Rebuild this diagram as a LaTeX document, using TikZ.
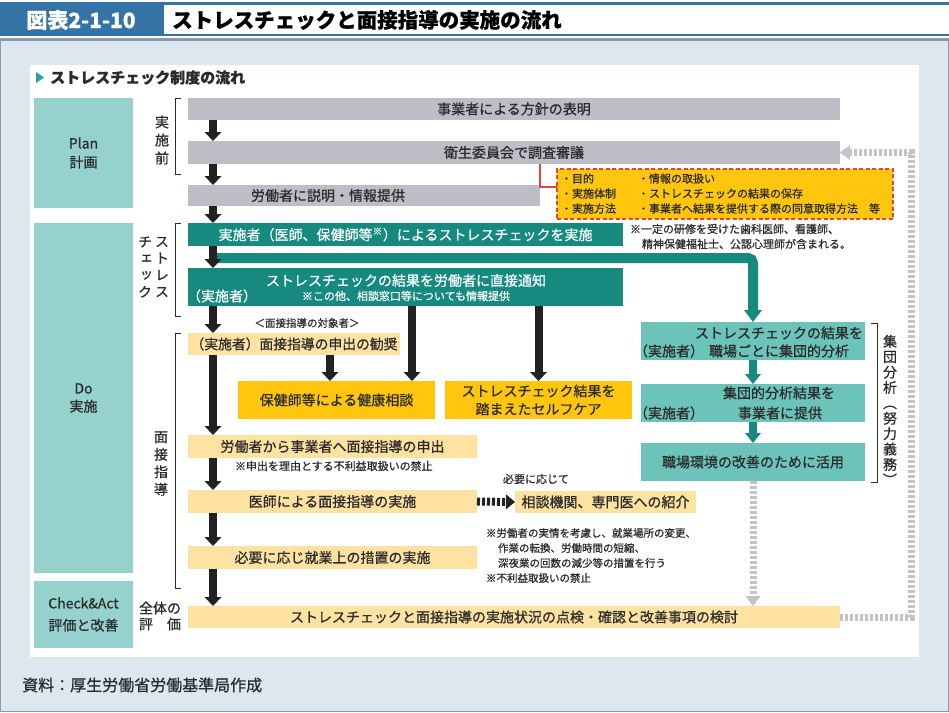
\documentclass[tikz,border=0pt]{standalone}
\usepackage{fontspec}
\setmainfont{Noto Sans CJK JP}[RawFeature={embolden=0.7}]
\newfontfamily\vfont{Noto Sans CJK JP}[RawFeature={+vert;embolden=0.7}]
\usetikzlibrary{arrows.meta,calc}
\definecolor{hdrblue}{HTML}{3473A6}
\definecolor{bgblue}{HTML}{DCE7F0}
\definecolor{frameg}{HTML}{8D99A4}
\definecolor{grayb}{HTML}{BDBDC5}
\definecolor{tealD}{HTML}{168A7F}
\definecolor{tealM}{HTML}{6BC3B9}
\definecolor{tealL}{HTML}{95D2CD}
\definecolor{tealtri}{HTML}{1FA59B}
\definecolor{lorange}{HTML}{FDE2A2}
\definecolor{gold}{HTML}{FFC60D}
\definecolor{redd}{HTML}{E8433A}
\definecolor{txt}{HTML}{2B2B2B}
\definecolor{arrblk}{HTML}{222222}
\definecolor{dgray}{HTML}{C3C3CB}
\newcommand\fs[2]{\fontsize{#1}{#2}\selectfont}
\begin{document}
\begin{tikzpicture}[x=1pt,y=-1pt,
  bx/.style={rectangle,anchor=north west,inner sep=0pt,outer sep=0pt,text=txt,font=\fs{14}{18},align=center},
  wh/.style 2 args={minimum width=#1pt,minimum height=#2pt},
  gbox/.style={bx,fill=grayb},
  tdbox/.style={bx,fill=tealD,text=white},
  tmbox/.style={bx,fill=tealM},
  tlbox/.style={bx,fill=tealL},
  lobox/.style={bx,fill=lorange},
  gdbox/.style={bx,fill=gold},
  lbl/.style={inner sep=0pt,outer sep=0pt,text=txt,font=\fs{14}{17},align=center},
  smalltxt/.style={inner sep=0pt,outer sep=0pt,text=txt,font=\fs{11}{13},anchor=west},
  brk/.style={draw=txt,line width=1pt},
  barrow/.style={draw=arrblk,line width=8pt,-{Triangle[width=17pt,length=9pt,line width=0pt]}},
  dotarrow/.style={draw=arrblk,line width=8pt,dash pattern=on 3pt off 2pt,-{Triangle[width=15pt,length=9pt,line width=0pt]}},
  tarrow/.style={draw=tealD,line width=8pt,-{Triangle[width=16pt,length=10pt,line width=0pt]}},
  tbar/.style={draw=tealD,line width=10pt,rounded corners=5pt,-{Triangle[width=18pt,length=12pt,line width=0pt]}},
  gdash/.style={draw=dgray,line width=7pt,dash pattern=on 3pt off 2pt,-{Triangle[width=15pt,length=10pt,line width=0pt]}},
  redline/.style={draw=redd,line width=1.3pt}
]
\useasboundingbox (0,0) rectangle (949,712);
% backgrounds
\fill[white] (0,0) rectangle (949,712);
\fill[bgblue] (0,40) rectangle (949,712);
\draw[draw=frameg,line width=1.2pt] (0.6,40) -- (0.6,711.4) -- (948.4,711.4) -- (948.4,40);
\fill[frameg] (0,37.5) rectangle (949,40.5);
\fill[hdrblue] (0,2) rectangle (949,36);
\fill[white] (164,5) rectangle (949,33.5);
\node[inner sep=0pt,text=white,font=\fs{21}{23}\bfseries] (hdr) at (81,20) {図表2-1-10};
\node[inner sep=0pt,anchor=west,text=black,font=\fs{20.5}{23}\bfseries] (ttl) at (172,20) {ストレスチェックと面接指導の実施の流れ};
\fill[white] (30,65) rectangle (919,657);
% section heading
\fill[tealtri] (36,72) -- (44,77.5) -- (36,83) -- cycle;
\node[inner sep=0pt,anchor=west,text=txt,font=\fs{15}{17}\bfseries] (sec) at (50,77.5) {ストレスチェック制度の流れ};
% left column
\node[tlbox,wh={99}{110},font=\fs{14}{19}] (plan) at (34,98) {Plan\\計画};
\node[tlbox,wh={99}{350},font=\fs{14}{18}] (do) at (34,223) {Do\\実施};
\node[tlbox,wh={99}{67},font=\fs{14}{22}] (ca) at (34,581) {Check\&Act\\評価と改善};
% brackets and vertical labels
\draw[brk] (181,98) -- (175,98) -- (175,174) -- (181,174);
\draw[brk] (181,223) -- (175,223) -- (175,316) -- (181,316);
\draw[brk] (181,333) -- (175,333) -- (175,588) -- (181,588);
\draw[brk] (871,323) -- (877,323) -- (877,482) -- (871,482);
\node[lbl,font=\vfont\fs{14}{18}] (v1) at (162,140) {実\\施\\前};
\node[lbl,font=\vfont\fs{14}{16.7}] (v2r) at (162,267) {ス\\ト\\レ\\ス};
\node[lbl,font=\vfont\fs{14}{16.7}] (v2l) at (145,267) {チ\\ェ\\ッ\\ク};
\node[lbl,font=\vfont\fs{14}{17.5}] (v3) at (161,463.5) {面\\接\\指\\導};
\node[lbl,font=\fs{14}{16}] (v4) at (160,616) {全体の\\評　価};
\node[lbl,font=\vfont\fs{14}{15.4}] (v5) at (890,410) {集\\団\\分\\析\\︵\\努\\力\\義\\務\\︶};
% main column
\node[gbox,wh={652}{22}] (n1) at (188,98) {事業者による方針の表明};
\node[gbox,wh={652}{23}] (n2) at (188,141) {衛生委員会で調査審議};
\node[gbox,wh={352}{21}] (n3) at (188,185) {};
\node[lbl] (t3) at (328,195.5) {労働者に説明・情報提供};
\node[tdbox,wh={435}{23}] (n4) at (188,223) {実施者（医師、保健師等\textsuperscript{※}）によるストレスチェックを実施};
\node[tdbox,wh={435}{38}] (n6) at (188,268) {};
\node[lbl,text=white] (t6a) at (406,280.5) {ストレスチェックの結果を労働者に直接通知};
\node[lbl,text=white] (t6b) at (222,296) {（実施者）};
\node[lbl,text=white,font=\fs{11}{13}] (t6c) at (406,296) {※この他、相談窓口等についても情報提供};
\node[lbl,font=\fs{10.5}{12}] (t7) at (307,323) {＜面接指導の対象者＞};
\node[lobox,wh={212}{22},font=\fs{13.8}{16}] (n8) at (188,333) {（実施者）面接指導の申出の勧奨};
\node[gdbox,wh={197}{38}] (n9) at (238,381) {保健師等による健康相談};
\node[gdbox,wh={187}{38}] (n10) at (445,381) {ストレスチェック結果を\\踏まえたセルフケア};
\node[lobox,wh={289}{23}] (n11) at (188,435) {労働者から事業者へ面接指導の申出};
\node[smalltxt] (t11) at (235,466) {※申出を理由とする不利益取扱いの禁止};
\node[lbl,font=\fs{11}{13}] (t12) at (536,479) {必要に応じて};
\node[lobox,wh={289}{23}] (n14) at (188,490) {医師による面接指導の実施};
\node[lobox,wh={181}{22}] (n15) at (515,491) {相談機関、専門医への紹介};
\node[lobox,wh={289}{23}] (n16) at (188,546) {必要に応じ就業上の措置の実施};
\node[smalltxt,font=\fs{10.5}{12}] (t16a) at (486,533) {※労働者の実情を考慮し、就業場所の変更、};
\node[smalltxt,font=\fs{10.5}{12}] (t16b) at (498,548) {作業の転換、労働時間の短縮、};
\node[smalltxt,font=\fs{10.5}{12}] (t16c) at (498,563) {深夜業の回数の減少等の措置を行う};
\node[smalltxt,font=\fs{10.5}{12}] (t16d) at (486,578) {※不利益取扱いの禁止};
\node[lobox,wh={652}{22}] (nb) at (188,606) {ストレスチェックと面接指導の実施状況の点検・確認と改善事項の検討};
% orange dashed box
\node[bx,wh={336}{50},fill=gold,draw=redd,line width=1.2pt,dash pattern=on 4pt off 2.5pt] (ob) at (557,169) {};
\node[smalltxt] (o1) at (561,178.5) {・目的};
\node[smalltxt] (o2) at (561,193.5) {・実施体制};
\node[smalltxt] (o3) at (561,208.5) {・実施方法};
\node[smalltxt] (o4) at (638,178.5) {・情報の取扱い};
\node[smalltxt] (o5) at (638,193.5) {・ストレスチェックの結果の保存};
\node[smalltxt] (o6) at (638,208.5) {・事業者へ結果を提供する際の同意取得方法　等};
\node[smalltxt] (tn1) at (630,229) {※一定の研修を受けた歯科医師、看護師、};
\node[smalltxt] (tn2) at (642,244) {精神保健福祉士、公認心理師が含まれる。};
% right column
\node[tmbox,wh={224}{38}] (nA) at (641,322) {};
\node[lbl] (tA1) at (779,333) {ストレスチェックの結果を};
\node[lbl] (tA2) at (669,351) {（実施者）};
\node[lbl] (tA3) at (779,351) {職場ごとに集団的分析};
\node[tmbox,wh={224}{38}] (nB) at (641,384) {};
\node[lbl] (tB1) at (779,393) {集団的分析結果を};
\node[lbl] (tB2) at (669,413) {（実施者）};
\node[lbl] (tB3) at (780,413) {事業者に提供};
\node[tmbox,wh={224}{38}] (nC) at (641,443) {職場環境の改善のために活用};
% red connector
\coordinate (rk) at (540,187);
\draw[redline] (n2.south -| rk) -- (rk) -- (ob.west |- rk);
% teal connector
\coordinate (tb) at (213,258);
\draw[tbar] (tb) -| (nA.north);
\draw[tarrow] (nA.south) -- (nB.north);
\draw[tarrow] (nB.south) -- (nC.north);
% gray dashed arrows
\draw[gdash] (nC.south) -- (nb.north -| nC.south);
\draw[gdash] (nb.east) -- ++(71,0) |- (n2.east);
% black arrows main column
\draw[barrow] ([xshift=25pt]n1.south west) -- ([xshift=25pt]n2.north west);
\draw[barrow] ([xshift=25pt]n2.south west) -- ([xshift=25pt]n3.north west);
\draw[barrow] ([xshift=25pt]n3.south west) -- ([xshift=25pt]n4.north west);
\draw[barrow] ([xshift=25pt]n4.south west) -- ([xshift=25pt]n6.north west);
\draw[barrow] ([xshift=25pt]n6.south west) -- ([xshift=25pt]n8.north west);
\draw[barrow] ([xshift=25pt]n8.south west) -- ([xshift=25pt]n11.north west);
\draw[barrow] ([xshift=25pt]n11.south west) -- ([xshift=25pt]n14.north west);
\draw[barrow] ([xshift=25pt]n14.south west) -- ([xshift=25pt]n16.north west);
\draw[barrow] ([xshift=25pt]n16.south west) -- ([xshift=25pt]nb.north west);
\coordinate (k1) at ([xshift=92pt]n9.north west);
\coordinate (k2) at ([xshift=174pt]n9.north west);
\draw[barrow] (n8.south -| k1) -- (k1);
\draw[barrow] (n6.south -| k2) -- (k2);
\draw[barrow] (n6.south -| n10.north) -- (n10.north);
\draw[dotarrow] (n14.east) -- (n15.west);
% footer
\node[inner sep=0pt,anchor=west,text=txt,font=\fs{16}{18}] (foot) at (22,685) {資料：厚生労働省労働基準局作成};
\end{tikzpicture}
\end{document}
